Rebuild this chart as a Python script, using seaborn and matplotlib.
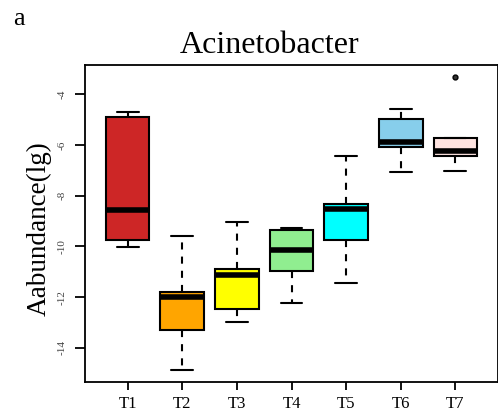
import matplotlib
matplotlib.use("Agg")
import matplotlib.pyplot as plt
import seaborn as sns
import pandas as pd

# ---- data ----
groups = ["T1", "T2", "T3", "T4", "T5", "T6", "T7"]
t1 = [-10.01, -9.74, -8.55, -4.91, -4.71]
t2 = [-14.89, -13.30, -11.99, -11.81, -9.58]
t3 = [-12.97, -12.47, -11.13, -10.91, -9.05]
t4 = [-12.22, -10.95, -10.13, -9.37, -9.26]
t5 = [-11.46, -9.75, -8.51, -8.32, -6.44]
t6 = [-7.07, -6.07, -5.86, -4.96, -4.59]
t7 = [-7.03, -6.44, -6.44, -6.22, -5.71, -5.71, -3.33]
colors = ["#CD2626", "#FFA500", "#FFFF00", "#90EE90", "#00FFFF", "#87CEEB", "#FFE4E1"]
yticks = [-14, -12, -10, -8, -6, -4]

values = [t1, t2, t3, t4, t5, t6, t7]
df = pd.DataFrame({
    "group": [g for g, v in zip(groups, values) for _ in v],
    "value": [x for v in values for x in v],
})

sns.set_theme(style="white")
plt.rcParams["font.family"] = ["Liberation Serif", "DejaVu Serif"]
plt.rcParams["text.color"] = "black"
plt.rcParams["xtick.color"] = "black"
plt.rcParams["ytick.color"] = "black"

fig = plt.figure(figsize=(4.98, 4.16), dpi=100)
ax = fig.add_axes([0.1707, 0.0817, 1.0 - 0.1707, 0.8438 - 0.0817])

sns.boxplot(
    data=df, x="group", y="value", hue="group", order=groups,
    palette=dict(zip(groups, colors)), saturation=1, width=0.8,
    whis=1.8, linewidth=1.5, linecolor="black", legend=False, ax=ax,
    whiskerprops=dict(linestyle=(0, (3.4, 3.4)), color="black", linewidth=1.5),
    capprops=dict(color="black", linewidth=1.5),
    medianprops=dict(color="black", linewidth=4, solid_capstyle="butt"),
    flierprops=dict(marker="o", markersize=3.5, markerfacecolor="#333333",
                    markeredgecolor="black", markeredgewidth=1.0),
)

ax.set_xlim(-0.78, 6.78)
ax.set_ylim(-15.35, -2.84)
ax.set_yticks(yticks)
ax.set_yticklabels([str(t) for t in yticks], rotation=90, va="center",
                   fontsize=8, color="#444444")
ax.set_xticks(range(len(groups)))
ax.set_xticklabels(groups, fontsize=12, color="black")
ax.set_xlabel("")
ax.set_ylabel("")
ax.tick_params(axis="y", length=7, width=1.3, pad=6, left=True, color="black")
ax.tick_params(axis="x", length=6, width=1.3, pad=4, bottom=True, color="black")
for s in ax.spines.values():
    s.set_visible(True)
    s.set_color("black")
    s.set_linewidth(1.3)

fig.text(270 / 498, 1 - 53 / 416, "Acinetobacter", ha="center", va="baseline",
         fontsize=23, color="black")
fig.text(39 / 498, 1 - 229 / 416, "Aabundance(lg)", ha="center", va="center",
         rotation=90, fontsize=19.5, color="black")
fig.text(13 / 498, 1 - 25 / 416, "a", ha="left", va="baseline", fontsize=19,
         color="black")

fig.savefig("out.png", dpi=100)
